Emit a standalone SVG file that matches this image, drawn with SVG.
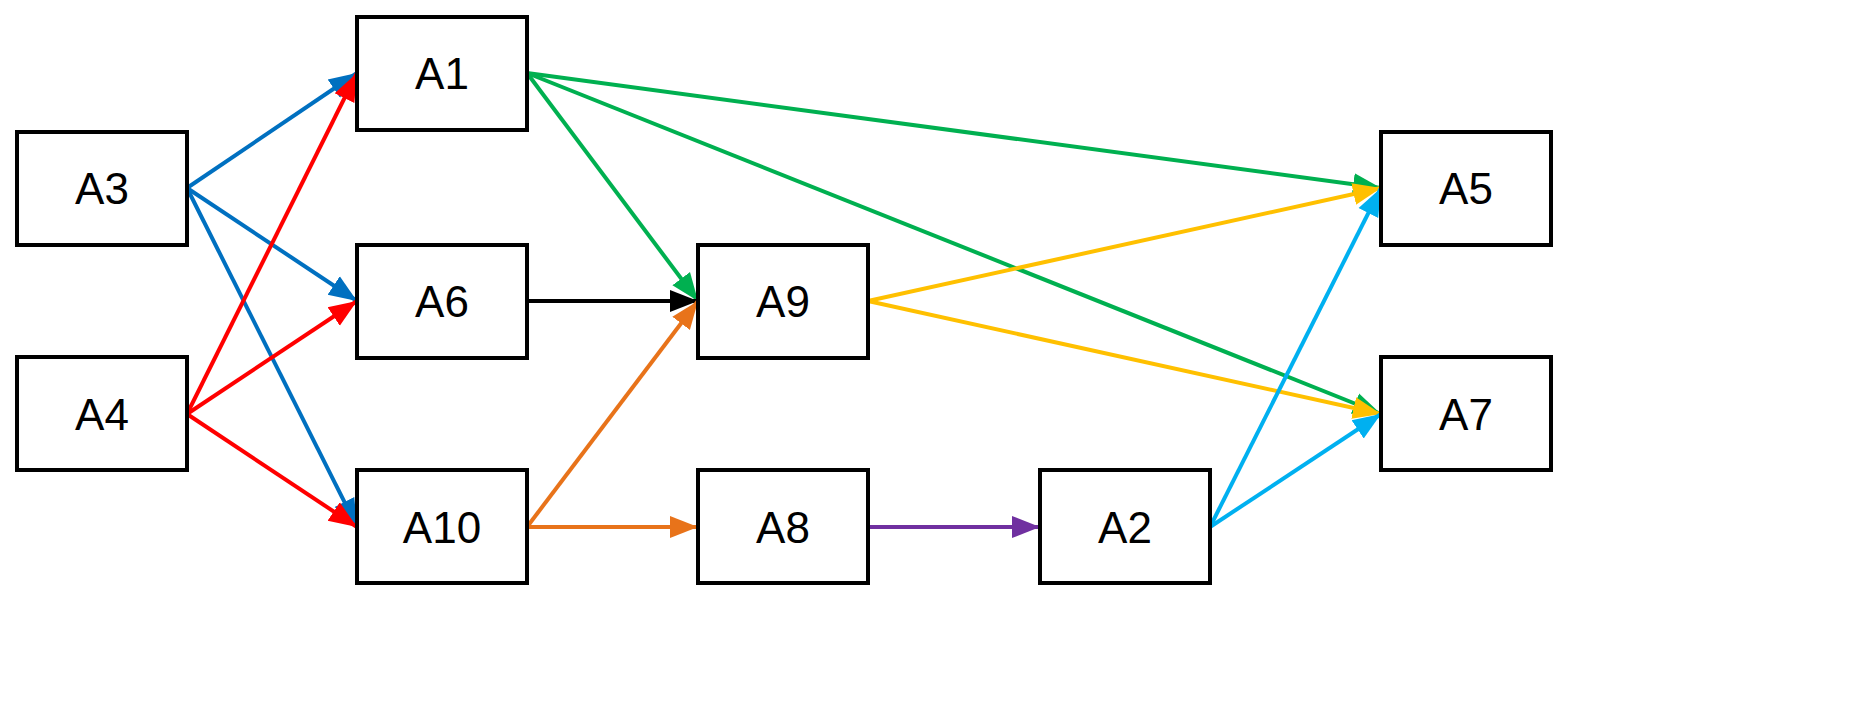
<svg xmlns="http://www.w3.org/2000/svg" width="1851" height="714" viewBox="0 0 1851 714">
<style>
.n rect{fill:#fff;stroke:#000;stroke-width:4}
.n text{font-family:"Liberation Sans",Arial,sans-serif;font-size:44px;text-anchor:middle;dominant-baseline:central}
.e line{stroke-width:4;fill:none}
</style>
<defs>
<marker id="mr" viewBox="0 0 28 28" refX="28" refY="14" markerWidth="28" markerHeight="28" markerUnits="userSpaceOnUse" orient="auto"><path d="M0,3L28,14L0,25z" fill="#FF0000"/></marker>
<marker id="mbl" viewBox="0 0 28 28" refX="28" refY="14" markerWidth="28" markerHeight="28" markerUnits="userSpaceOnUse" orient="auto"><path d="M0,3L28,14L0,25z" fill="#0070C0"/></marker>
<marker id="mg" viewBox="0 0 28 28" refX="28" refY="14" markerWidth="28" markerHeight="28" markerUnits="userSpaceOnUse" orient="auto"><path d="M0,3L28,14L0,25z" fill="#00B050"/></marker>
<marker id="mk" viewBox="0 0 28 28" refX="28" refY="14" markerWidth="28" markerHeight="28" markerUnits="userSpaceOnUse" orient="auto"><path d="M0,3L28,14L0,25z" fill="#000"/></marker>
<marker id="mo" viewBox="0 0 28 28" refX="28" refY="14" markerWidth="28" markerHeight="28" markerUnits="userSpaceOnUse" orient="auto"><path d="M0,3L28,14L0,25z" fill="#E8731A"/></marker>
<marker id="mp" viewBox="0 0 28 28" refX="28" refY="14" markerWidth="28" markerHeight="28" markerUnits="userSpaceOnUse" orient="auto"><path d="M0,3L28,14L0,25z" fill="#7030A0"/></marker>
<marker id="my" viewBox="0 0 28 28" refX="28" refY="14" markerWidth="28" markerHeight="28" markerUnits="userSpaceOnUse" orient="auto"><path d="M0,3L28,14L0,25z" fill="#FFC000"/></marker>
<marker id="mc" viewBox="0 0 28 28" refX="28" refY="14" markerWidth="28" markerHeight="28" markerUnits="userSpaceOnUse" orient="auto"><path d="M0,3L28,14L0,25z" fill="#00B0F0"/></marker>
</defs>
<g id="connectors" class="e">
<line x1="187" y1="188" x2="357" y2="73" stroke="#0070C0" marker-end="url(#mbl)"/>
<line x1="187" y1="188" x2="357" y2="301" stroke="#0070C0" marker-end="url(#mbl)"/>
<line x1="187" y1="188" x2="357" y2="527" stroke="#0070C0" marker-end="url(#mbl)"/>
<line x1="187" y1="414" x2="357" y2="73" stroke="#FF0000" marker-end="url(#mr)"/>
<line x1="187" y1="414" x2="357" y2="301" stroke="#FF0000" marker-end="url(#mr)"/>
<line x1="187" y1="414" x2="357" y2="527" stroke="#FF0000" marker-end="url(#mr)"/>
<line x1="527" y1="73" x2="698" y2="301" stroke="#00B050" marker-end="url(#mg)"/>
<line x1="527" y1="73" x2="1381" y2="188" stroke="#00B050" marker-end="url(#mg)"/>
<line x1="527" y1="73" x2="1381" y2="414" stroke="#00B050" marker-end="url(#mg)"/>
<line x1="527" y1="301" x2="698" y2="301" stroke="#000" marker-end="url(#mk)"/>
<line x1="527" y1="527" x2="698" y2="301" stroke="#E8731A" marker-end="url(#mo)"/>
<line x1="527" y1="527" x2="698" y2="527" stroke="#E8731A" marker-end="url(#mo)"/>
<line x1="868" y1="527" x2="1040" y2="527" stroke="#7030A0" marker-end="url(#mp)"/>
<line x1="868" y1="301" x2="1381" y2="188" stroke="#FFC000" marker-end="url(#my)"/>
<line x1="868" y1="301" x2="1381" y2="414" stroke="#FFC000" marker-end="url(#my)"/>
<line x1="1210" y1="527" x2="1381" y2="188" stroke="#00B0F0" marker-end="url(#mc)"/>
<line x1="1210" y1="527" x2="1381" y2="414" stroke="#00B0F0" marker-end="url(#mc)"/>
</g>
<g id="A1" class="n"><rect x="357" y="17" width="170" height="113"/><text x="442" y="73">A1</text></g>
<g id="A3" class="n"><rect x="17" y="132" width="170" height="113"/><text x="102" y="188">A3</text></g>
<g id="A6" class="n"><rect x="357" y="245" width="170" height="113"/><text x="442" y="301">A6</text></g>
<g id="A9" class="n"><rect x="698" y="245" width="170" height="113"/><text x="783" y="301">A9</text></g>
<g id="A5" class="n"><rect x="1381" y="132" width="170" height="113"/><text x="1466" y="188">A5</text></g>
<g id="A7" class="n"><rect x="1381" y="357" width="170" height="113"/><text x="1466" y="414">A7</text></g>
<g id="A4" class="n"><rect x="17" y="357" width="170" height="113"/><text x="102" y="414">A4</text></g>
<g id="A10" class="n"><rect x="357" y="470" width="170" height="113"/><text x="442" y="527">A10</text></g>
<g id="A8" class="n"><rect x="698" y="470" width="170" height="113"/><text x="783" y="527">A8</text></g>
<g id="A2" class="n"><rect x="1040" y="470" width="170" height="113"/><text x="1125" y="527">A2</text></g>
</svg>
